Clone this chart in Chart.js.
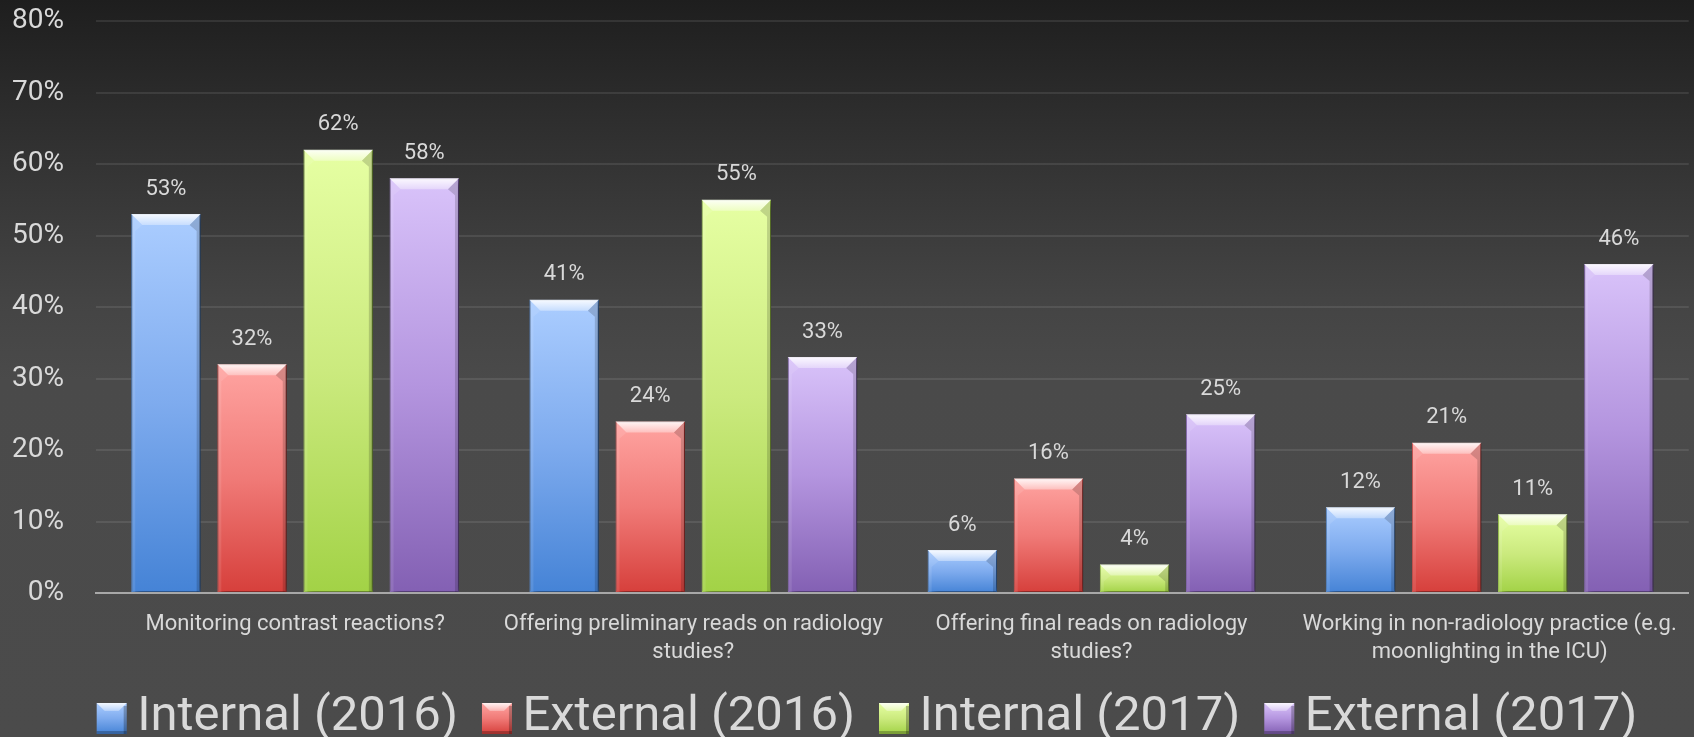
<!DOCTYPE html>
<html><head><meta charset="utf-8">
<script src="https://cdn.jsdelivr.net/npm/chart.js@4/dist/chart.umd.min.js"></script>
<style>
html,body{margin:0;padding:0;}
body{width:1694px;height:737px;overflow:hidden;background:linear-gradient(to bottom,#1e1e1e 0px,#2a2a2a 90px,#383838 200px,#444444 300px,#4a4a4a 380px,#4b4b4b 737px);}
#wrap{width:1694px;height:737px;position:relative;}
canvas{display:block;}
</style></head><body>
<div id="wrap"><canvas id="c" width="1694" height="737"></canvas></div>
<script>
// ---- data ----
const categories = [
  "Monitoring contrast reactions?",
  ["Offering preliminary reads on radiology", "studies?"],
  ["Offering final reads on radiology", "studies?"],
  ["Working in non-radiology practice (e.g.", "moonlighting in the ICU)"]
];
const seriesNames = ["Internal (2016)", "External (2016)", "Internal (2017)", "External (2017)"];
const internal2016 = [53, 41, 6, 12];
const external2016 = [32, 24, 16, 21];
const internal2017 = [62, 55, 4, 11];
const external2017 = [58, 33, 25, 46];
const yTicks = [0, 10, 20, 30, 40, 50, 60, 70, 80];
const yTickLabels = ["0%", "10%", "20%", "30%", "40%", "50%", "60%", "70%", "80%"];

// ---- styles ----
const palettes = [
  ["#abcdff", "#7eabee", "#4583d6"],
  ["#ffa4a1", "#f07a77", "#d63f3b"],
  ["#e6ffa3", "#cbea7e", "#a2d246"],
  ["#d9c3fa", "#b495df", "#8360b3"]
];
const textColor = "#d9d9d9";
const FONT = "Roboto";

function barGradient(ctx, pal) {
  const chart = ctx.chart;
  const y = chart.scales && chart.scales.y;
  if (!chart.chartArea || !y || ctx.type !== 'data') return pal[1];
  const v = ctx.parsed ? ctx.parsed.y : ctx.raw;
  const top = y.getPixelForValue(v), base = y.getPixelForValue(0);
  if (!isFinite(top) || !isFinite(base) || base - top < 1) return pal[1];
  const g = chart.ctx.createLinearGradient(0, top, 0, base);
  g.addColorStop(0, pal[0]);
  g.addColorStop(0.5, pal[1]);
  g.addColorStop(1, pal[2]);
  return g;
}

const seriesData = [internal2016, external2016, internal2017, external2017];

const shadowPlugin = {
  id: 'barShadow',
  beforeDatasetsDraw(chart) {
    const c = chart.ctx;
    c.save();
    c.shadowColor = 'rgba(0,0,0,0.55)';
    c.shadowBlur = 8;
    c.shadowOffsetX = 3;
    c.shadowOffsetY = 2;
  },
  afterDatasetsDraw(chart) {
    chart.ctx.restore();
  }
};

const bevelPlugin = {
  id: 'bevel',
  afterDatasetsDraw(chart) {
    const c = chart.ctx;
    chart.data.datasets.forEach((ds, di) => {
      const meta = chart.getDatasetMeta(di);
      meta.data.forEach((bar) => {
        const p = bar.getProps(['x', 'y', 'width', 'base'], true);
        const l = p.x - p.width / 2, r = p.x + p.width / 2, t = p.y, b = p.base;
        const h = b - t;
        const bv = Math.min(11, h / 2, p.width / 2);
        c.save();
        let g = c.createLinearGradient(0, t, 0, t + bv);
        g.addColorStop(0, 'rgba(255,255,255,0.9)');
        g.addColorStop(1, 'rgba(255,255,255,0.35)');
        c.fillStyle = g;
        c.beginPath();
        c.moveTo(l, t); c.lineTo(r, t); c.lineTo(r - bv, t + bv); c.lineTo(l + bv, t + bv); c.closePath();
        c.fill();
        const s = Math.min(4, p.width / 4);
        c.fillStyle = 'rgba(255,255,255,0.10)';
        c.beginPath();
        c.moveTo(l, t); c.lineTo(l + bv, t + bv); c.lineTo(l + s, t + bv + 6); c.lineTo(l + s, b); c.lineTo(l, b); c.closePath();
        c.fill();
        c.fillStyle = 'rgba(0,0,0,0.16)';
        c.beginPath();
        c.moveTo(r, t); c.lineTo(r - bv, t + bv); c.lineTo(r - s, t + bv + 6); c.lineTo(r - s, b); c.lineTo(r, b); c.closePath();
        c.fill();
        c.restore();
      });
    });
  }
};

const labelPlugin = {
  id: 'valueLabels',
  afterDatasetsDraw(chart) {
    const c = chart.ctx;
    c.save();
    c.font = '22px ' + FONT;
    c.fillStyle = textColor;
    c.textAlign = 'center';
    c.textBaseline = 'middle';
    chart.data.datasets.forEach((ds, di) => {
      const meta = chart.getDatasetMeta(di);
      meta.data.forEach((bar, i) => {
        const p = bar.getProps(['x', 'y'], true);
        c.fillText(ds.data[i] + '%', p.x, p.y - 25);
      });
    });
    c.restore();
  }
};

const legendShiftPlugin = {
  id: 'legendShift',
  afterLayout(chart) {
    const lg = chart.legend;
    if (lg) { lg.left += 14; lg.right += 14; lg.top += 3; lg.bottom += 3; }
  }
};

const legendMarkerPlugin = {
  id: 'legendMarkers',
  afterDraw(chart) {
    const lg = chart.legend;
    if (!lg || !lg.legendHitBoxes) return;
    const c = chart.ctx;
    lg.legendHitBoxes.forEach((hb, i) => {
      const pal = palettes[i];
      const w = 30, hgt = 31;
      const x = hb.left + 14, y = hb.top + hb.height / 2 + 1 - hgt / 2;
      c.save();
      let g = c.createLinearGradient(0, y, 0, y + hgt);
      g.addColorStop(0, pal[0]); g.addColorStop(0.5, pal[1]); g.addColorStop(1, pal[2]);
      c.fillStyle = g;
      c.fillRect(x, y, w, hgt);
      const bv = 8;
      g = c.createLinearGradient(0, y, 0, y + bv);
      g.addColorStop(0, 'rgba(255,255,255,0.85)'); g.addColorStop(1, 'rgba(255,255,255,0.3)');
      c.fillStyle = g;
      c.beginPath();
      c.moveTo(x, y); c.lineTo(x + w, y); c.lineTo(x + w - bv, y + bv); c.lineTo(x + bv, y + bv); c.closePath(); c.fill();
      c.fillStyle = 'rgba(0,0,0,0.25)';
      c.fillRect(x + w - 3, y + 3, 3, hgt - 3);
      c.fillRect(x, y + hgt - 3, w, 3);
      c.restore();
    });
  }
};

function build() {
  const datasets = seriesNames.map((name, i) => ({
    label: name,
    data: seriesData[i],
    backgroundColor: (ctx) => barGradient(ctx, palettes[i]),
    borderColor: palettes[i][2],
    borderWidth: 1,
    borderSkipped: false
  }));

  new Chart(document.getElementById('c'), {
    type: 'bar',
    data: { labels: categories, datasets },
    plugins: [legendShiftPlugin, shadowPlugin, bevelPlugin, labelPlugin, legendMarkerPlugin],
    options: {
      responsive: false,
      animation: false,
      devicePixelRatio: 1,
      layout: { padding: { left: 0, right: 2, top: 21, bottom: -12 } },
      datasets: { bar: { categoryPercentage: 0.865, barPercentage: 0.806 } },
      scales: {
        x: {
          grid: { display: false, drawTicks: false },
          border: { display: true, color: '#a8a8a8', width: 2 },
          ticks: {
            color: textColor, font: { family: FONT, size: 22, lineHeight: 1.3 },
            padding: 17, maxRotation: 0, minRotation: 0, autoSkip: false
          },
          afterFit(s) { s.height = 87; }
        },
        y: {
          min: 0, max: 80,
          afterBuildTicks(s) { s.ticks = yTicks.map(v => ({ value: v })); },
          ticks: {
            color: textColor, font: { family: FONT, size: 28 }, padding: 0,
            callback: (v) => yTickLabels[yTicks.indexOf(v)]
          },
          grid: { color: 'rgba(255,255,255,0.09)', lineWidth: 2, drawTicks: true, tickLength: 32, tickColor: 'rgba(0,0,0,0)' },
          border: { display: false },
          afterFit(s) { s.width = 96; }
        }
      },
      plugins: {
        tooltip: { enabled: false },
        legend: {
          position: 'bottom',
          labels: {
            color: textColor,
            font: { family: FONT, size: 49 },
            boxWidth: 30, boxHeight: 30, padding: 10,
            generateLabels(chart) {
              return chart.data.datasets.map((ds, i) => ({
                text: ds.label, fillStyle: 'rgba(0,0,0,0)', strokeStyle: 'rgba(0,0,0,0)',
                lineWidth: 0, hidden: false, datasetIndex: i, fontColor: textColor
              }));
            }
          }
        }
      }
    }
  });
}

const fontLoads = [document.fonts.load('22px Roboto'), document.fonts.load('28px Roboto'), document.fonts.load('49px Roboto')];
Promise.all(fontLoads).then(build, build);
</script>
</body></html>
